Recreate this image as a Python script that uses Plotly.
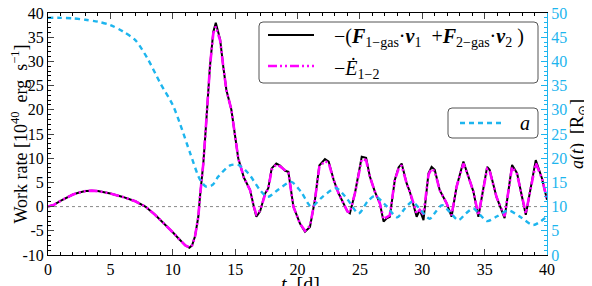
import plotly.graph_objects as go

# ---------------- data ----------------
t_work = [0, 0.5, 1, 1.5, 2, 2.5, 3, 3.5, 4, 5, 6, 7, 7.8, 8.5, 9, 9.5, 10, 10.5, 11, 11.33,
          11.55, 11.78, 12.05, 12.18, 12.45, 12.64, 12.98, 13.25, 13.45, 13.6, 13.8, 14.05, 14.3,
          14.7, 14.9, 15.25, 15.7, 16.2, 16.5, 16.7, 17.0, 17.4, 17.66, 17.93, 18.3, 18.6, 19.0,
          19.27, 19.67, 20.2, 20.6, 21.0, 21.4, 21.75, 22.2, 22.5, 22.9, 23.3, 24.0, 24.2, 24.6,
          25.15, 25.5, 25.8, 26.2, 26.6, 26.9, 27.15, 27.4, 27.8, 28.1, 28.35, 28.75, 29.0, 29.55,
          29.8, 30.1, 30.5, 30.75, 31.0, 31.4, 31.95, 32.35, 32.75, 33.3, 33.7, 34.1, 34.5, 35.2,
          35.4, 35.95, 36.6, 37.2, 37.6, 38.0, 38.3, 39.1, 39.6, 40]
work_forces = [0, 0.4, 1.2, 1.9, 2.5, 2.9, 3.2, 3.3, 3.2, 2.7, 2.0, 1.1, 0, -1.5, -2.7, -3.9, -5.3,
               -6.7, -8.0, -8.5, -8.0, -6.2, -2.1, 2.0, 8.9, 15.8, 28.9, 36.1, 38.0, 36.5, 34.5,
               28.9, 24.1, 20.0, 16.0, 10.0, 6.0, 3.4, 0.0, -2.1, -1.0, 2.7, 3.8, 7.9, 8.9, 8.5,
               7.4, 7.2, 0.0, -3.5, -5.2, -4.2, 1.4, 8.5, 9.8, 9.3, 5.5, 2.7, -1.0, -1.4, 2.7, 10.3,
               10.1, 6.2, 3.1, 0.7, -3.1, -2.4, -2.1, 5.5, 8.1, 8.9, 4.8, 3.1, -2.1, -0.7, -2.8,
               6.9, 8.2, 7.6, 3.4, 0.7, -2.1, 4.1, 9.3, 6.2, 3.1, -2.1, 8.2, 7.6, 2.0, -2.4, 8.6,
               6.9, 2.0, -1.7, 9.6, 5.8, 1.4]
work_energy = [0, 0.4, 1.2, 1.9, 2.5, 2.9, 3.2, 3.3, 3.2, 2.7, 2.0, 1.1, 0, -1.5, -2.7, -3.9, -5.3,
               -6.7, -8.0, -8.4, -8.0, -6.2, -2.1, 2.0, 8.9, 15.8, 28.9, 35.8, 37.2, 36.0, 34.3,
               28.9, 24.1, 20.0, 16.0, 10.0, 6.0, 3.4, 0.0, -1.6, -0.8, 2.5, 3.8, 7.6, 8.7, 8.3,
               7.5, 7.0, 0.0, -3.5, -5.0, -4.0, 1.4, 8.2, 9.4, 9.0, 5.5, 2.7, -1.0, -1.2, 2.7, 9.8,
               9.6, 6.2, 3.1, 0.7, -2.6, -2.2, -1.8, 5.5, 7.8, 8.5, 4.8, 3.1, -1.4, -0.7, -1.6,
               6.6, 7.8, 7.3, 3.4, 0.7, -1.8, 4.1, 8.9, 6.2, 3.1, -1.8, 7.8, 7.4, 2.0, -2.0, 8.2,
               6.7, 2.0, -1.4, 9.0, 5.8, 1.4]

t_sep = [0, 1, 2, 3, 4, 5, 6, 7, 8, 9, 10, 10.6, 11.4, 12.2, 12.7, 13.2, 13.65, 14.6, 15.25, 16.05,
         17.0, 17.6, 18.5, 19.5, 20.3, 21.1, 22.0, 23.1, 24.0, 24.9, 25.6, 26.2, 27.1, 28.0, 28.6,
         29.2, 29.9, 30.6, 31.1, 31.6, 32.2, 32.9, 33.5, 34.1, 34.6, 35.2, 36.0, 36.9, 37.9, 38.9, 40]
separation = [49.0, 49.0, 48.9, 48.6, 48.2, 47.5, 46.2, 44.4, 40.5, 35.5, 31.0, 27.0, 21.0, 15.5,
              14.1, 14.5, 16.2, 18.5, 18.6, 16.9, 13.4, 12.0, 13.6, 15.1, 13.0, 10.0, 12.0, 13.8,
              11.5, 8.6, 11.0, 12.2, 10.2, 7.8, 9.6, 11.0, 9.2, 7.5, 9.0, 10.3, 8.9, 7.2, 8.6, 9.6,
              8.4, 7.0, 8.0, 9.2, 7.8, 6.2, 8.0]

x_ticks = [0, 5, 10, 15, 20, 25, 30, 35, 40]
y_ticks = [-10, -5, 0, 5, 10, 15, 20, 25, 30, 35, 40]
y_tick_labels = ["-10", "-5", "0", "5", "10", "15", "20", "25", "30", "35", "40"]
y2_ticks = [0, 5, 10, 15, 20, 25, 30, 35, 40, 45, 50]

name_forces = ("−(<b><i>F</i></b><sub>1−gas</sub>·<b><i>v</i></b><sub>1</sub>  "
               "+<b><i>F</i></b><sub>2−gas</sub>·<b><i>v</i></b><sub>2</sub> )")
name_energy = "−<i>Ė</i><sub>1−2</sub>"
name_sep = "<i>a</i>"
x_title = "<i>t</i>  [d]"

# ---------------- style ----------------
OFF = 8                      # page body margin in the browser
W, H = 592 - OFF, 286 - OFF  # figure size
L, R, T, B = 48, 547, 13, 255  # plot area in window pixels
BLUE = "#1DB5EE"
MAGENTA = "#FF00FF"
FONT = "Liberation Serif"


def px(x):
    return (x - L) / (R - L)


def py(y):
    return (B - y) / (B - T)


def rounded_rect(x0, y0, x1, y1, r=4):
    rx = r / (R - L)
    ry = r / (B - T)
    X0, X1 = px(x0), px(x1)
    Y0, Y1 = py(y1), py(y0)
    return (f"M{X0+rx},{Y0} L{X1-rx},{Y0} Q{X1},{Y0} {X1},{Y0+ry} "
            f"L{X1},{Y1-ry} Q{X1},{Y1} {X1-rx},{Y1} L{X0+rx},{Y1} "
            f"Q{X0},{Y1} {X0},{Y1-ry} L{X0},{Y0+ry} Q{X0},{Y0} {X0+rx},{Y0} Z")


def f(size, color="black"):
    return dict(family=FONT, size=size, color=color)


fig = go.Figure()
fig.add_trace(go.Scatter(x=t_work, y=work_forces, mode="lines", name=name_forces,
                         line=dict(color="black", width=2), showlegend=False))
fig.add_trace(go.Scatter(x=t_work, y=work_energy, mode="lines", name=name_energy,
                         line=dict(color=MAGENTA, width=2.6, dash="9px,3px,2px,3px,2px,3px"),
                         showlegend=False))
fig.add_trace(go.Scatter(x=t_sep, y=separation, mode="lines", name=name_sep, yaxis="y2",
                         line=dict(color=BLUE, width=2.4, dash="5px,4px", shape="spline",
                                   smoothing=0.8),
                         showlegend=False))

shapes = []
shapes.append(dict(type="line", xref="paper", yref="y", x0=0, x1=1, y0=0, y1=0,
                   line=dict(color="#888888", width=1, dash="dot"), layer="below"))
shapes.append(dict(type="path", xref="paper", yref="paper", path=rounded_rect(259, 22, 538, 83),
                   line=dict(color="#555555", width=1), fillcolor="white"))
shapes.append(dict(type="path", xref="paper", yref="paper", path=rounded_rect(448, 108, 538, 138),
                   line=dict(color="#555555", width=1), fillcolor="white"))
shapes.append(dict(type="line", xref="paper", yref="paper", x0=px(268), x1=px(314),
                   y0=py(35), y1=py(35), line=dict(color="black", width=2)))
shapes.append(dict(type="line", xref="paper", yref="paper", x0=px(268), x1=px(314),
                   y0=py(66), y1=py(66),
                   line=dict(color=MAGENTA, width=2.6, dash="9px,3px,2px,3px,2px,3px")))
shapes.append(dict(type="line", xref="paper", yref="paper", x0=px(460), x1=px(504),
                   y0=py(123), y1=py(123), line=dict(color=BLUE, width=2.4, dash="5px,4px")))

annotations = [
    dict(text=name_forces, xref="paper", yref="paper", x=px(332), y=py(37), xanchor="left",
         yanchor="middle", showarrow=False, font=f(20)),
    dict(text=name_energy, xref="paper", yref="paper", x=px(332), y=py(69), xanchor="left",
         yanchor="middle", showarrow=False, font=f(20)),
    dict(text=name_sep, xref="paper", yref="paper", x=px(532), y=py(123), xanchor="right",
         yanchor="middle", showarrow=False, font=f(20)),
    dict(text=x_title, xref="paper", yref="paper", x=px(300), y=py(284), xanchor="center",
         yanchor="middle", showarrow=False, font=f(20)),
]

axis_common = dict(ticks="inside", ticklen=6, tickwidth=1, showline=True, linewidth=1,
                   showgrid=False, zeroline=False, automargin=False,
                   ticklabeloverflow="allow")

fig.update_layout(
    width=W, height=H,
    margin=dict(l=L - OFF, r=W - (R - OFF), t=T - OFF, b=H - (B - OFF), pad=0),
    paper_bgcolor="white", plot_bgcolor="white",
    font=f(16),
    showlegend=False,
    shapes=shapes,
    annotations=annotations,
    xaxis=dict(range=[0, 40], tickvals=x_ticks, linecolor="black", mirror="ticks",
               minor=dict(dtick=1, tick0=0, ticks="inside", ticklen=3, tickcolor="black"),
               tickfont=f(16),
               **axis_common),
    yaxis=dict(range=[-10, 40], tickvals=y_ticks, ticktext=y_tick_labels, linecolor="black",
               minor=dict(dtick=1, tick0=0, ticks="inside", ticklen=3, tickcolor="black"),
               tickfont=f(16),
               title=dict(text="Work rate [10<sup>40</sup>  erg  s<sup>−1</sup>]",
                          font=f(18), standoff=2),
               **axis_common),
    yaxis2=dict(range=[0, 50], tickvals=y2_ticks, overlaying="y", side="right",
                linecolor=BLUE, tickcolor=BLUE, tickfont=f(16, BLUE),
                minor=dict(dtick=1, tick0=0, ticks="inside", ticklen=3, tickcolor=BLUE),
                title=dict(text="<i>a</i>(<i>t</i>)  [R<sub>⊙</sub>]", font=f(18), standoff=2),
                **axis_common),
)

fig.write_html("out.html")
